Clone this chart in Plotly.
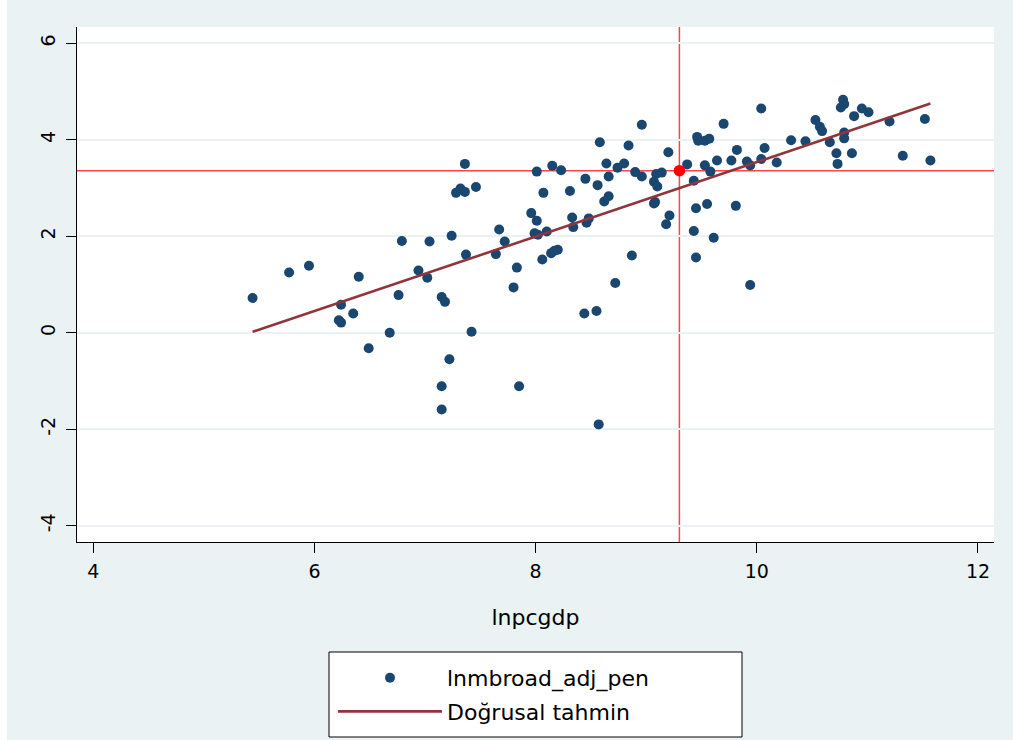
import plotly.graph_objects as go

# ---- data ----
lnpcgdp = [
    5.44, 5.77, 5.95, 6.24, 6.22, 6.24, 6.35, 6.40, 6.49, 6.68, 6.76, 6.79, 6.94, 7.02, 7.04,
    7.15, 7.18, 7.15, 7.15, 7.22, 7.24, 7.28, 7.32, 7.36, 7.36, 7.37, 7.42, 7.46, 7.67, 7.64,
    7.72, 7.83, 7.80, 7.85,
    7.96, 8.01, 8.01, 7.99, 8.02, 8.10, 8.07, 8.15, 8.23, 8.06, 8.14, 8.17, 8.20,
    8.31, 8.33, 8.34, 8.45, 8.46, 8.48, 8.56, 8.58, 8.62, 8.66, 8.64, 8.66, 8.74, 8.80,
    8.72, 8.84, 8.87, 8.90, 8.96, 8.96, 9.07, 9.09, 9.10, 9.14, 9.07, 9.08, 9.20, 9.21, 9.18,
    9.37, 9.43, 9.46, 9.47, 9.53, 9.57, 9.53, 9.58, 9.45, 9.55, 9.43, 9.45, 9.61, 9.64, 9.70,
    9.77, 9.82, 9.81, 9.91, 9.94, 9.94, 10.04, 10.07, 10.04, 10.18, 10.31, 10.44, 10.53, 10.57,
    10.59, 10.66, 10.72, 10.73, 10.76, 10.78, 10.79, 10.79, 10.79, 10.86, 10.88, 10.95, 11.01,
    11.20, 11.32, 11.52, 11.57,
    8.44, 8.55, 8.57,
]
lnmbroad_adj_pen = [
    0.72, 1.25, 1.39, 0.58, 0.26, 0.21, 0.40, 1.16, -0.32, 0.00, 0.78, 1.90, 1.29, 1.14, 1.89,
    0.74, 0.64, -1.11, -1.59, -0.55, 2.01, 2.90, 2.99, 2.92, 3.50, 1.62, 0.02, 3.02, 2.14, 1.63,
    1.89, 1.35, 0.94, -1.11,
    2.48, 3.34, 2.32, 2.06, 2.03, 2.10, 2.90, 3.46, 3.37, 1.52, 1.65, 1.70, 1.72,
    2.94, 2.39, 2.19, 3.19, 2.28, 2.37, 3.06, 3.95, 2.72, 2.83, 3.51, 3.24, 3.42, 3.51,
    1.03, 3.88, 1.60, 3.33, 3.24, 4.31, 3.13, 3.29, 3.03, 3.32, 2.68, 2.71, 3.74, 2.43, 2.25,
    3.49, 3.15, 4.06, 3.98, 3.98, 4.02, 3.47, 3.34, 2.58, 2.67, 2.11, 1.56, 1.97, 3.57, 4.33,
    3.57, 3.79, 2.63, 3.55, 3.47, 0.99, 4.65, 3.83, 3.60, 3.53, 3.99, 3.97, 4.41, 4.27,
    4.18, 3.95, 3.72, 3.50, 4.67, 4.83, 4.74, 4.15, 4.03, 3.72, 4.49, 4.65, 4.57,
    4.38, 3.67, 4.43, 3.57,
    0.40, 0.45, -1.90,
]
# linear prediction (endpoints of the fitted line as drawn)
fit_x = [5.44, 11.57]
fit_y = [0.02, 4.75]
# highlighted point and reference lines
ref_x = [9.30]
ref_y = [3.36]

x_ticks = [4, 6, 8, 10, 12]
y_ticks = [-4, -2, 0, 2, 4, 6]

NAVY = "#1A476F"
MAROON = "#90353B"
BG = "#EAF2F3"
REFRED = "#FF4545"
FONT = "DejaVu Sans"

fig = go.Figure()
fig.add_trace(go.Scatter(
    x=lnpcgdp, y=lnmbroad_adj_pen, mode="markers", name="lnmbroad_adj_pen",
    legendgroup="a",
    marker=dict(color=NAVY, size=10, line=dict(width=0)),
))
fig.add_trace(go.Scatter(
    x=fit_x, y=fit_y, mode="lines", name="Doğrusal tahmin", legendgroup="b",
    line=dict(color=MAROON, width=2.6),
))
fig.add_trace(go.Scatter(
    x=ref_x, y=ref_y, mode="markers", showlegend=False,
    marker=dict(color="#FF0000", size=11.5, line=dict(width=0)),
))

# reference lines through the highlighted point
fig.add_hline(y=ref_y[0], line=dict(color=REFRED, width=1.5), layer="below")
fig.add_vline(x=ref_x[0], line=dict(color=REFRED, width=1.5), layer="below")

L, R, T, B = 77, 19, 27, 198
W, H = 1013, 740
pw, ph = W - L - R, H - T - B


def px_x(p):
    return (p - L) / pw


def px_y(p):
    return (H - B - p) / ph


shapes = [
    # thin white strip on the far left
    dict(type="rect", xref="paper", yref="paper", x0=px_x(0), x1=px_x(7),
         y0=px_y(H), y1=px_y(0), fillcolor="white", line=dict(width=0), layer="below"),
    # legend frame
    dict(type="rect", xref="paper", yref="paper", x0=px_x(329), x1=px_x(742),
         y0=px_y(737), y1=px_y(652), fillcolor="white", line=dict(color="black", width=1),
         layer="below"),
]
for s in shapes:
    fig.add_shape(**s)

fig.update_layout(
    width=W, height=H,
    margin=dict(l=L, r=R, t=T, b=B, pad=0, autoexpand=False),
    paper_bgcolor=BG, plot_bgcolor="white",
    font=dict(family=FONT, color="black", size=19),
    showlegend=True,
    legend=dict(
        x=px_x(333), y=px_y(657), xanchor="left", yanchor="top",
        bgcolor="rgba(0,0,0,0)", borderwidth=0,
        font=dict(family=FONT, size=22, color="black"),
        itemwidth=104, traceorder="grouped", tracegroupgap=2,
    ),
    xaxis=dict(
        range=[3.852, 12.145], tickvals=x_ticks, ticktext=[str(v) for v in x_ticks],
        showgrid=False, zeroline=False, showline=True, linecolor="black", linewidth=1,
        ticks="outside", ticklen=10, tickwidth=1, tickcolor="black",
        tickfont=dict(family=FONT, size=19), ticklabelstandoff=2,
        title=dict(text="lnpcgdp", font=dict(family=FONT, size=22), standoff=28),
    ),
    yaxis=dict(
        range=[-4.338, 6.338], tickvals=y_ticks, ticktext=[str(v) for v in y_ticks],
        showgrid=True, gridcolor=BG, gridwidth=2, zeroline=False,
        showline=True, linecolor="black", linewidth=1,
        ticks="outside", ticklen=10, tickwidth=1, tickcolor="black",
        tickangle=-90, tickfont=dict(family=FONT, size=19), ticklabelstandoff=3,
    ),
)

fig.write_html("out.html")
